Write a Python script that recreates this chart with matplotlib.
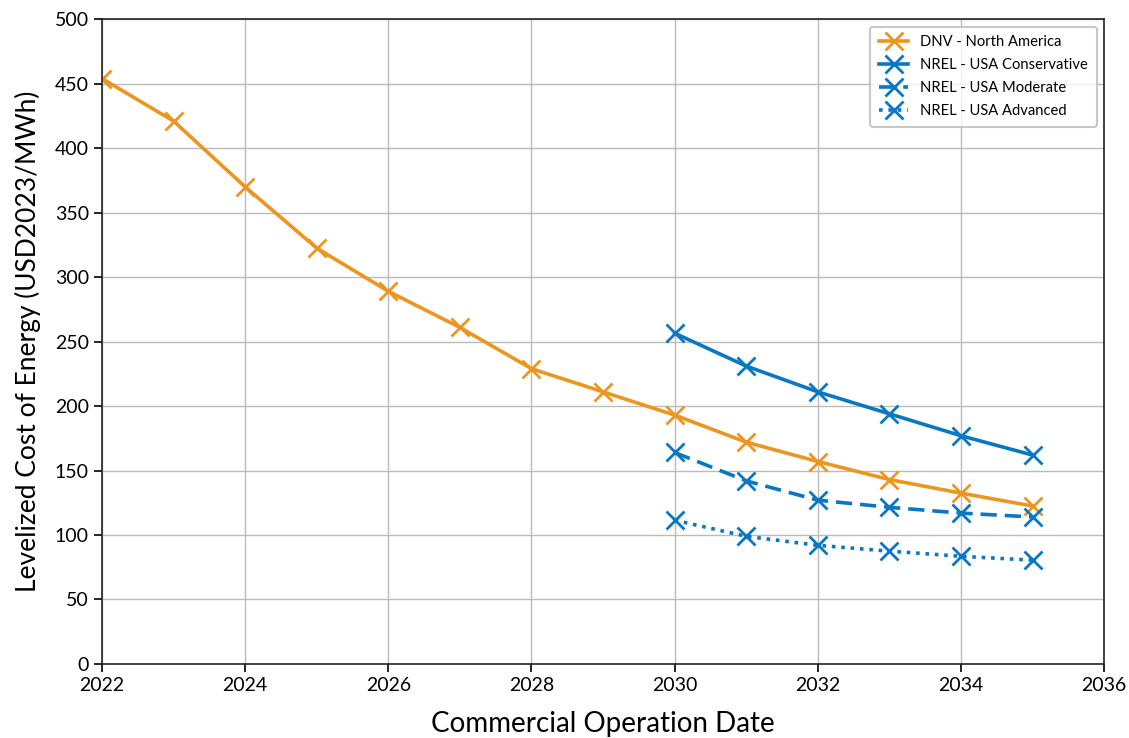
import matplotlib
matplotlib.use("Agg")
import matplotlib.pyplot as plt

plt.rcParams['font.family'] = ['Lato', 'DejaVu Sans']

# LCOE projections (USD2023/MWh)
dnv_years = [2022, 2023, 2024, 2025, 2026, 2027, 2028, 2029, 2030, 2031, 2032, 2033, 2034, 2035]
dnv_na = [454, 421, 370, 322.5, 289, 261, 229, 211, 193, 172, 157, 143, 132.5, 122.5]

nrel_years = [2030, 2031, 2032, 2033, 2034, 2035]
nrel_conservative = [256.5, 231, 211, 194, 177, 162]
nrel_moderate = [164, 142, 127, 121.5, 117, 114]
nrel_advanced = [111.5, 99, 92, 87.5, 83.5, 80.5]

orange = "#EC961F"
blue = "#0878C4"

fig = plt.figure(figsize=(11.29, 7.38), dpi=100)
ax = fig.add_axes([0.0903, 0.1003, 0.8877, 0.8737])

style = dict(marker="x", markersize=13, markeredgewidth=2, linewidth=2.6)
ax.plot(dnv_years, dnv_na, color=orange, label="DNV - North America", **style)
ax.plot(nrel_years, nrel_conservative, color=blue, linestyle="-", label="NREL - USA Conservative", **style)
ax.plot(nrel_years, nrel_moderate, color=blue, linestyle=(0, (4.5, 2.2)), label="NREL - USA Moderate", **style)
ax.plot(nrel_years, nrel_advanced, color=blue, linestyle=(0, (1, 1.6)), label="NREL - USA Advanced", **style)

ax.set_xlim(2022, 2036)
ax.set_ylim(0, 500)
ax.set_xticks(range(2022, 2037, 2))
ax.set_yticks(range(0, 501, 50))
ax.grid(True, color="#BBBBBB", linewidth=1)
ax.set_axisbelow(True)
ax.tick_params(direction="out", labelsize=14, length=6, width=1.2)
for s in ax.spines.values():
    s.set_linewidth(1.2)
    s.set_color("#222222")

ax.set_xlabel("Commercial Operation Date", fontsize=20, labelpad=12)
ax.set_ylabel("Levelized Cost of Energy (USD2023/MWh)", fontsize=19, labelpad=10)

leg = ax.legend(loc="upper right", fontsize=10.6, frameon=True, fancybox=True,
                edgecolor="#BBBBBB", handlelength=2.0, borderpad=0.6,
                labelspacing=0.6, bbox_to_anchor=(1.0, 1.0), borderaxespad=0.5)
leg.get_frame().set_linewidth(1.5)

fig.savefig("out.png", dpi=100)
